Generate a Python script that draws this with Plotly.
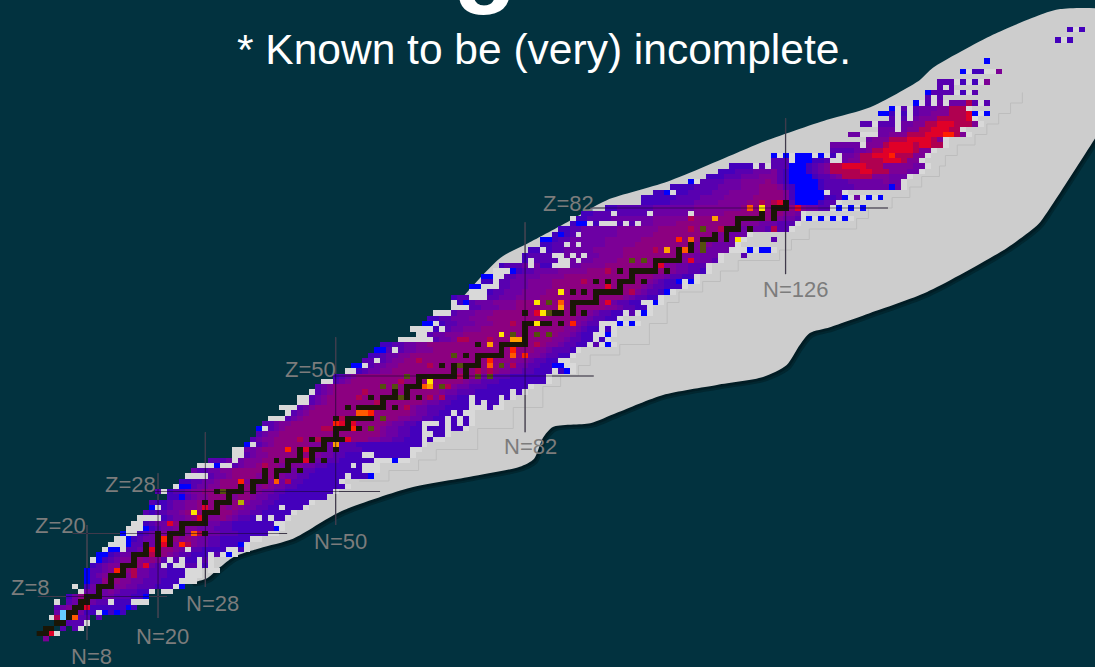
import re
import numpy as np
import plotly.graph_objects as go

BG = "#02323f"
palette = {"i": "#4400bc", "v": "#5800b0", "p": "#6c00a4", "m": "#7c0096", "c": "#8c0080", "d": "#b00050",
           "r": "#e00028", "R": "#ff2000", "o": "#ff5a00", "O": "#ffa000", "y": "#ffe600",
           "Y": "#b8b000", "k": "#1a1606", "g": "#55500e", "l": "#66ccff", "b": "#0000ff",
           "w": "#d9d9d9"}

# (Z, first N, run-length cell codes; "." = no cell)
band_rows = [
    (0, 1, "m"), (1, 0, "kkrw"), (2, 1, "kk.v.vw"), (3, 3, "kkvvvw"), (4, 2, "wdlkovv.v"),
    (5, 3, "plkkpiiwbibi"), (6, 3, "vpmpkriiiiiibi"), (7, 3, "w.vpkkpvvwiiiwww"),
    (8, 5, "ipckkkppvvviib"), (9, 7, "wppkpmpvvviiw.ww"), (10, 6, "w.ipkkkmmppvvviiiwb"),
    (11, 8, "bvvckcmmppvvviiiwww"), (12, 8, "bvpmkkkmmppvvviiiwww"), (13, 8, "bvvpmkmcmppvvviiiwww.ww"),
    (14, 9, "ivpmmcmmcmpvwiwwvvwiw"), (15, 9, "wbivpmmccmcmvwvwiiwvw"),
    (16, 10, "bbivppmmccrcmpvviiiwvwbw"), (17, 11, "wbbwvvppmcccmpwvviiiiwwiw"),
    (18, 12, "wwwbvvppmccmccmppvviiibw"), (19, 13, "wwbivpppmccmcmppvviiiiiww"),
    (20, 14, "bwwivppmmkcmcmmppvvviiiiiww"), (21, 15, "wwwbivppmcmmpppvvviiiiiiibw"),
    (22, 16, "wwivppmcccmcmppvviiiiiiiww"), (23, 17, "wwwwivppmcccmmcmpvviwiwiiw"),
    (24, 18, "vivvppmccccmmccmppvviiiiiw"), (25, 19, "bwivppmmcccmcmcmppvviiwiiiw"),
    (26, 19, "viivppmmccccmccmmppvviiiiiiw"), (27, 22, "iibvpmmccccmccmppvviiiiiiii"),
    (28, 20, "vwivvpmmccccccccmmppvviiiiiiiiw"), (29, 23, "wbbvppmmccccccmcmppvviiiiiiiiw"),
    (30, 24, "iivvppmccccmcccmmppvviiiiiiw"), (31, 25, "wwwwvppmccccmmccmppvviiiiiiwiiib"),
    (32, 26, "pvvppmmcccccmccmmppvviiiiiiiiwww"), (33, 27, "wwwbwwvpmmccccmcmmppvviiiiwiwww"),
    (34, 29, "vvvpwpmmmcccccmmcmppvviiiiiiwwwbww"), (35, 33, "wwvpmmcccccmcmmppvviiiwwiiiiiiw"),
    (36, 33, "wwppmcccccccmmppppvvvviiiiiiiiww"), (37, 35, "bwvpmccccccmmpppvvviiiiiiiiiiiw"),
    (38, 36, "vpm2c16m2p2v2i3wiw2"), (39, 37, "vpm2c17mp2v2i2w2i2w"),
    (40, 37, "bwvpmc16mp2v2i2wi3wi2w"), (41, 38, "v2pm2c16mp2v2iw3iwiwiw"),
    (42, 39, "w3vpmc16m2p2v2i2wiwiw"), (43, 42, "wvpmc17mp2v2i2wiw2"),
    (44, 41, "w3vpmc16mp2v3i4w3iw2"), (45, 44, "w2vpmc16mp2v2i3wiwi2w"),
    (46, 44, "w2vpmc18mpv2i2wi4wiw"), (47, 46, "wvpmc18mp2v3i6wiw"),
    (48, 47, "vpmc20mp2v3i7w"), (49, 48, "w2vpmc19mp2v3i8w"), (50, 50, "ivpmc20mp2v3i6w"),
    (51, 52, "w2ivp2m2c18m2p2v2i3wibw"), (52, 53, "b2wvp2m2c18m2p2v2i2b2w2"),
    (53, 55, "v2wvpm2c19m2pv2i2w2"), (54, 56, "i2vp2m2c20m2pv2i2w"),
    (55, 57, "b2vwvp2m3c17m2pv3iw"), (56, 58, "i2v2p2m2c20m2pv2i2wvwbw"),
    (57, 61, "w6vp2m3c14m2pv2i2wiw"), (58, 64, "w2vp2m3c16m2pvi2w2bw"),
    (59, 63, "w4iwvp2m3c14m2pvi2wiw"), (60, 65, "b2wiv2p3m3c13m2pv2w3bwbw"),
    (61, 66, "i2v2p3m3c15m2pv2i2w"), (62, 67, "w3vp3m3c16mpv2i2wvwbw"),
    (63, 70, "w3v2p3m3c15m2pv2i2w"), (64, 70, "wibvp3m4c15mpv2i2w2bw"),
    (65, 70, "iv2w3v2p3m4c14mpv2i2w"), (66, 73, "w3iv2p3m4c15mpv2ibw"),
    (67, 73, "b2w3v2p3m4c15mpv2i3w"), (68, 75, "i2wv2p3m4c16mpvi2bwbw"),
    (69, 75, "b2w2v2p4m4c15m2pv2i2w"), (70, 77, "w3biv2p4m5c13m2p2v2iw"),
    (71, 78, "iv3pwpi2w3p2m4c10m2p2v3w"), (72, 82, "iwv4w2pwp2m4c10m2p4vw"),
    (73, 82, "iv4w2pwpwp2m4c10m2p4w.3v"), (74, 83, "i2wiv2p5m5c11m3p4w3bwb2w"),
    (75, 85, "i2v2wpwp4m5c10m3p4w"), (76, 85, "b2iv2p6m6c11m3p3w.4v"),
    (77, 87, "ibivwp6m6c10m3p3w"), (78, 88, "i2v2p6m7c11m3p4v4w"),
    (79, 90, "ib2wiw3vwvwp2m4c11m3p3v3w"), (80, 90, "wi2v4p7m6c14m2p2vwbwbwbwbw"),
    (81, 92, "i2v3wv5wp6wm5c10m2pw"), (82, 96, "i2v6p7m8c9m2p2v2wbwbwb"),
    (83, 102, "i5v4p4m5c6mvb4iv2w"), (84, 102, "i6v4p4m5c5mib5i2vbwpwbwb"),
    (85, 104, "i2bwi2v4p3m5c4mib5wv2w"), (86, 107, "i4v4p4m3c3mvib4iv5p6bpw"),
    (87, 110, "bwv4p3m4cmvib5iv4p6mp2w"), (88, 113, "i3v3p3m3vib4iv2pmd5m3p3w"),
    (89, 115, "i3v3p3mvib3ivpmd5r2d3m3p2w"), (90, 117, "i4wvwv3b3ivpmd2r4d3m5p2w"),
    (91, 124, "v3wb3i2vw2pm2d4r3dm2w"), (92, 124, "bwbwb3wbwiwp2md2r3Rd3m2w"),
    (93, 134, "v4p2md2r5dm2w"), (94, 134, "p5wm3dr4dr2d2w"), (95, 140, "pm3d3r4dmw"),
    (96, 137, "p2w3p2m3d3r3R2dmw"), (97, 142, "p3wpm2d2r3d2w"), (98, 139, "v2wv3wp2m2d2r3d3mw"),
    (99, 144, "vwvwpm3d5rw"), (100, 142, "b2iwiwvp2m3d3rbwb"), (101, 144, "bwvwvp3m2d3w"),
    (102, 148, "bwvwpwp3dvwv"), (103, 150, "vwv"), (104, 150, "bv4wiwv"), (105, 152, "vwv"),
    (106, 152, "v3wiwiwm"), (108, 156, "bwi2w2m"), (110, 160, "b"), (114, 172, "iwi"),
    (116, 174, "iwi"),
]

stable_z = list(range(1, 84))
stable_n = [[0, 1], [1, 2], [3, 4], [5], [5, 6], [6, 7], [7, 8], [8, 9, 10], [10], [10, 11, 12],
            [12], [12, 13, 14], [14], [14, 15, 16], [16], [16, 17, 18, 20], [18, 20], [18, 20, 22],
            [20, 21, 22], [20, 22, 23, 24, 26, 28], [24], [24, 25, 26, 27, 28], [27, 28],
            [26, 28, 29, 30], [30], [28, 30, 31, 32], [32], [30, 32, 33, 34, 36], [34, 36],
            [34, 36, 37, 38, 40], [38, 40], [38, 40, 41, 42, 44], [42], [40, 42, 43, 44, 46, 48],
            [44, 46], [42, 44, 46, 47, 48, 50], [48, 50], [46, 48, 49, 50, 51, 52], [50],
            [50, 51, 52, 54, 56], [52], [50, 52, 53, 54, 55, 56, 58], [], [52, 54, 55, 56, 57, 58, 60],
            [58], [56, 58, 59, 60, 62, 64], [60, 62], [58, 60, 62, 63, 64, 65, 66, 68], [64, 66],
            [62, 64, 65, 66, 67, 68, 69, 70, 72, 74], [70, 72], [68, 70, 71, 72, 73, 74, 76, 78], [74],
            [70, 72, 74, 75, 76, 77, 78, 80, 82], [78], [74, 76, 78, 79, 80, 81, 82], [81, 82],
            [78, 80, 82, 84], [82], [82, 83, 84, 85, 86, 88, 90], [], [82, 85, 86, 87, 88, 90, 92],
            [88, 90], [88, 90, 91, 92, 93, 94, 96], [94], [90, 92, 94, 95, 96, 97, 98], [98],
            [94, 96, 98, 99, 100, 102], [100], [98, 100, 101, 102, 103, 104, 106], [104, 105],
            [102, 104, 105, 106, 107, 108], [108], [106, 108, 109, 110, 112], [110, 112],
            [112, 113, 114, 116, 118], [114, 116], [116, 117, 118, 120], [118],
            [118, 119, 120, 121, 122, 124], [122, 124], [122, 124, 125, 126], [126]]

# crimson cells scattered beside the black path
mottle_z = [46, 45, 44, 38, 33, 30, 46, 46, 50, 51, 51, 52, 56, 60, 57, 57, 68, 70, 66, 74, 78, 80, 78, 83, 83, 78,
            40, 36, 52, 52, 53, 47, 49, 57, 54, 12, 13, 16, 18, 20, 22, 24, 26, 28, 30, 32, 34, 36, 38, 40,
            42, 44, 48, 58, 62, 64, 66, 70, 72, 76]
mottle_n = [54, 57, 62, 44, 38, 42, 66, 68, 71, 74, 76, 80, 84, 80, 72, 76, 92, 96, 100, 104, 110, 110, 124, 122, 124, 115,
            48, 46, 70, 66, 64, 55, 61, 71, 74, 16, 16, 19, 25, 27, 28, 30, 32, 34, 37, 41, 44, 46, 47, 49,
            51, 54, 69, 82, 90, 91, 94, 100, 105, 113]

hot_z = [37, 41, 41, 41, 40, 43, 43, 43, 38, 36, 34, 30, 36, 40, 42, 46, 48, 49, 48, 48, 50, 48, 48, 50,
         50, 53, 52, 52, 54, 52, 56, 58, 58, 57, 57, 55, 54, 54, 58, 58, 60, 62, 62, 62, 64, 63, 66,
         64, 64, 60, 67, 64, 72, 71, 72, 74, 74, 72, 75, 74, 76, 76, 78, 80, 82, 82, 83, 82, 76,
         13, 14, 17, 19, 18, 18, 20, 22, 23, 24, 25, 26, 28, 30, 30, 36]
hot_n = [50, 51, 50, 53, 53, 54, 55, 56, 52, 45, 45, 40, 42, 56, 58, 61, 65, 66, 66, 68, 62, 58, 60, 74,
         76, 76, 76, 78, 70, 71, 76, 78, 80, 80, 81, 80, 80, 82, 84, 86, 84, 84, 85, 86, 88, 88, 88,
         84, 86, 90, 96, 96, 102, 105, 100, 106, 109, 110, 112, 112, 108, 110, 112, 114, 122, 120, 125, 128, 118,
         13, 18, 19, 21, 21, 24, 26, 22, 27, 26, 28, 34, 31, 40, 34, 42]
hot_code = list("OrRrRooRrrrYggggoyOggg" "gggRogggOygOORoRggyrygoOyygRrrgrg"
                "OorggRogOyorryRrr" "RrRorryrYgoRRYgg")

magic_z = [8, 20, 28, 50, 82]
magic_z_from = [-0.3, 5.6, 19.5, 49.6, 93.0]
magic_z_to = [21.5, 41.8, 57.5, 93.6, 143.3]
magic_n = [8, 20, 28, 50, 82, 126]
magic_n_from = [-0.3, 3.9, 9.8, 21.6, 39.3, 69.4]
magic_n_to = [21.6, 31.5, 39.3, 57.4, 79.3, 99.1]

label_text = ["Z=8", "Z=20", "Z=28", "Z=50", "Z=82", "N=8", "N=20", "N=28", "N=50", "N=82", "N=126"]
label_n = [-1.6, 3.5, 15.3, 45.7, 89.3, 8.7, 20.8, 29.2, 50.8, 82.9, 127.6]
label_z = [9.8, 21.6, 29.4, 51.3, 82.8, -3.5, 0.3, 6.6, 18.4, 36.5, 66.4]

region_n = [25.4, 28.3, 30.5, 32.7, 37.2, 42.8, 50.7, 62.6, 72.7, 81.1, 83.5, 85.0, 86.7, 93.0, 97.5, 105.3,
            114.4, 122.2, 126.2, 128.4, 130.1, 133.5, 140.3, 149.9, 163.4, 168.6, 170.2, 178.3,
            182.0, 182.0, 172.4, 169.5, 161.0, 150.9, 148.7, 140.3, 133.0, 121.7, 118.8, 106.0, 95.8,
            89.1, 82.0, 77.8, 64.3, 44.0, 25.4]
region_z = [10.8, 11.5, 13.6, 15.5, 17.2, 19.0, 24.1, 28.7, 30.8, 32.7, 34.2, 38.2, 40.3, 41.0, 43.0, 46.4,
            48.3, 49.8, 52.1, 55.9, 58.2, 59.3, 62.0, 66.0, 74.4, 78.8, 81.2, 95.3,
            102.0, 119.0, 119.9, 119.0, 115.0, 108.7, 106.4, 101.2, 98.8, 94.4, 93.0, 87.0, 83.5,
            79.3, 75.0, 72.5, 55.9, 30.2, 10.8]

drip_z = [30, 32, 34, 36, 40, 44, 48, 50, 52, 54, 56, 60, 64, 66, 68, 70, 72, 74, 76, 78, 80, 82, 84, 86,
          88, 90, 92, 94, 96, 98, 100, 102, 104]
drip_n = [54, 59, 64, 67, 74, 80, 85, 88, 91, 93, 98, 103, 106, 108, 112, 115, 118, 125, 127, 130, 138,
          140, 144, 147, 149, 152, 153, 155, 158, 160, 162, 164, 166]

# ---- assemble the cell grid ----
N_MIN, N_MAX, Z_MAX = 0, 177, 118
codes = list(palette)
grid = np.full((Z_MAX + 1, N_MAX - N_MIN + 1), np.nan)


def put(z, n, ch):
    if ch != ".":
        grid[z, n - N_MIN] = codes.index(ch) + 0.5


for z, n0, runs in band_rows:
    n = n0
    for ch, cnt in re.findall(r"([a-zA-Z.])(\d*)", runs):
        for _ in range(int(cnt) if cnt else 1):
            put(z, n, ch)
            n += 1
for z, n in zip(mottle_z, mottle_n):
    put(z, n, "d")
for z, ns in zip(stable_z, stable_n):
    for n in ns:
        put(z, n, "k")
for z, n, ch in zip(hot_z, hot_n, hot_code):
    put(z, n, ch)

scale = []
for i, ch in enumerate(codes):
    scale += [[i / len(codes), palette[ch]], [(i + 1) / len(codes), palette[ch]]]

# ---- axis ranges: 5.92 px per N, 5.25 px per Z ----
x_range = [8 - 87 / 5.92, 8 + (1095 - 87) / 5.92]
y_range = [8 - (667 - 596.5) / 5.25, 8 + 596.5 / 5.25]

fig = go.Figure()
for dx, dz, col in [(0.55, -0.8, "#01262f"), (0.3, -0.45, "#011c24")]:
    fig.add_trace(go.Scatter(x=[v + dx for v in region_n], y=[v + dz for v in region_z], mode="lines",
                             fill="toself", fillcolor=col, line=dict(color=col, width=0, shape="spline", smoothing=0.7),
                             hoverinfo="skip"))
fig.add_trace(go.Scatter(x=region_n, y=region_z, mode="lines", fill="toself", fillcolor="#cdcdcd",
                         line=dict(color="#cdcdcd", width=0, shape="spline", smoothing=0.7), hoverinfo="skip"))
fig.add_trace(go.Scatter(x=drip_n, y=drip_z, mode="lines", line=dict(color="#bdbdbd", width=1, shape="hv"),
                         hoverinfo="skip"))

line_x, line_y = [], []
for z, a, b in zip(magic_z, magic_z_from, magic_z_to):
    line_x += [a, b, None]
    line_y += [z, z, None]
for n, a, b in zip(magic_n, magic_n_from, magic_n_to):
    line_x += [n, n, None]
    line_y += [a, b, None]
fig.add_trace(go.Scatter(x=line_x, y=line_y, mode="lines", line=dict(color="#777777", width=1.2), hoverinfo="skip"))

# The cells sit on an overlaying pair of axes so they paint above the grey region.
fig.add_trace(go.Heatmap(x=list(range(N_MIN, N_MAX + 1)), y=list(range(0, Z_MAX + 1)), z=grid,
                         colorscale=scale, zmin=0, zmax=len(codes), showscale=False, hoverinfo="skip",
                         xaxis="x2", yaxis="y2"))
fig.add_trace(go.Scatter(x=line_x, y=line_y, mode="lines", line=dict(color="rgba(20,10,40,0.55)", width=1.2),
                         hoverinfo="skip", xaxis="x2", yaxis="y2"))

ann = [dict(x=n, y=z, xref="x", yref="y", text=t, showarrow=False,
            font=dict(family="Liberation Sans", size=22, color="#7c7c7c"))
       for t, n, z in zip(label_text, label_n, label_z)]
ann.append(dict(x=544 / 1095, y=1 - 50 / 667, xref="paper", yref="paper", yanchor="middle",
                text="* Known to be (very) incomplete.",
                showarrow=False, font=dict(family="Liberation Sans", size=42.5, color="white")))
ann.append(dict(x=485 / 1095, y=1, xref="paper", yref="paper", yanchor="bottom", yshift=-17, text="<b>g</b>",
                showarrow=False, font=dict(family="Liberation Sans", size=105, color="white")))

fig.update_layout(width=1095, height=667, margin=dict(l=0, r=0, t=0, b=0), paper_bgcolor=BG, plot_bgcolor=BG,
                  showlegend=False, annotations=ann,
                  xaxis=dict(range=x_range, visible=False, fixedrange=True),
                  yaxis=dict(range=y_range, visible=False, fixedrange=True),
                  xaxis2=dict(range=x_range, visible=False, fixedrange=True, overlaying="x"),
                  yaxis2=dict(range=y_range, visible=False, fixedrange=True, overlaying="y"))
fig.write_html("out.html", config={"displayModeBar": False},
               post_script="document.body.style.margin='0';document.body.style.overflow='hidden';")
